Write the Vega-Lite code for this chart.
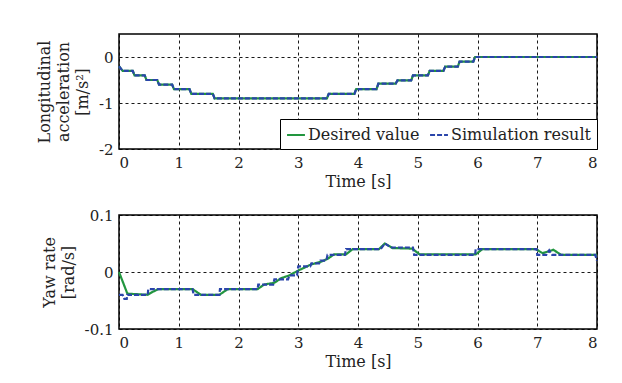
{
  "$schema": "https://vega.github.io/schema/vega-lite/v6.json",
  "background": "white",
  "padding": {"left": 35, "top": 33, "right": 20, "bottom": 5},
  "spacing": 17,
  "config": {
    "font": "DejaVu Serif",
    "view": {"stroke": "black", "strokeWidth": 1.5},
    "axis": {
      "labelFont": "DejaVu Serif", "titleFont": "DejaVu Serif",
      "labelFontSize": 15, "titleFontSize": 16, "labelColor": "#222", "titleColor": "#222",
      "titleFontWeight": "normal", "ticks": false, "domain": false,
      "grid": true, "gridColor": "black", "gridDash": [3, 3], "gridOpacity": 0.9, "gridWidth": 1,
      "labelPadding": 6, "labelExpr": "replace(datum.label, '−', '-')"
    },
    "legend": {"labelFont": "DejaVu Serif"}
  },
  "datasets": {
    "acc": [
      {"t": 0, "v": -0.2}, {"t": 0.06, "v": -0.3}, {"t": 0.23, "v": -0.3}, {"t": 0.26, "v": -0.4},
      {"t": 0.43, "v": -0.4}, {"t": 0.46, "v": -0.5}, {"t": 0.64, "v": -0.5}, {"t": 0.67, "v": -0.6},
      {"t": 0.89, "v": -0.6}, {"t": 0.92, "v": -0.7}, {"t": 1.18, "v": -0.7}, {"t": 1.21, "v": -0.8},
      {"t": 1.57, "v": -0.8}, {"t": 1.60, "v": -0.9}, {"t": 3.48, "v": -0.9}, {"t": 3.51, "v": -0.8},
      {"t": 3.94, "v": -0.8}, {"t": 3.97, "v": -0.7}, {"t": 4.31, "v": -0.7}, {"t": 4.34, "v": -0.58},
      {"t": 4.63, "v": -0.58}, {"t": 4.66, "v": -0.51}, {"t": 4.89, "v": -0.51}, {"t": 4.92, "v": -0.4},
      {"t": 5.17, "v": -0.4}, {"t": 5.20, "v": -0.3}, {"t": 5.43, "v": -0.3}, {"t": 5.46, "v": -0.21},
      {"t": 5.67, "v": -0.21}, {"t": 5.70, "v": -0.1}, {"t": 5.93, "v": -0.1}, {"t": 5.96, "v": 0},
      {"t": 8, "v": 0}
    ],
    "yaw": [
      {"s": "Desired value", "t": 0, "v": 0}, {"s": "Desired value", "t": 0.14, "v": -0.038},
      {"s": "Desired value", "t": 0.48, "v": -0.04}, {"s": "Desired value", "t": 0.56, "v": -0.035},
      {"s": "Desired value", "t": 0.66, "v": -0.03}, {"s": "Desired value", "t": 1.23, "v": -0.03},
      {"s": "Desired value", "t": 1.37, "v": -0.04}, {"s": "Desired value", "t": 1.68, "v": -0.04},
      {"s": "Desired value", "t": 1.82, "v": -0.03}, {"s": "Desired value", "t": 2.32, "v": -0.03},
      {"s": "Desired value", "t": 2.43, "v": -0.022}, {"s": "Desired value", "t": 2.6, "v": -0.019},
      {"s": "Desired value", "t": 2.71, "v": -0.011}, {"s": "Desired value", "t": 2.85, "v": -0.006},
      {"s": "Desired value", "t": 2.99, "v": 0.002}, {"s": "Desired value", "t": 3.13, "v": 0.009},
      {"s": "Desired value", "t": 3.21, "v": 0.013}, {"s": "Desired value", "t": 3.38, "v": 0.018},
      {"s": "Desired value", "t": 3.49, "v": 0.023}, {"s": "Desired value", "t": 3.6, "v": 0.031},
      {"s": "Desired value", "t": 3.8, "v": 0.031}, {"s": "Desired value", "t": 3.91, "v": 0.04},
      {"s": "Desired value", "t": 4.35, "v": 0.04}, {"s": "Desired value", "t": 4.45, "v": 0.05},
      {"s": "Desired value", "t": 4.58, "v": 0.042}, {"s": "Desired value", "t": 4.91, "v": 0.041},
      {"s": "Desired value", "t": 5.03, "v": 0.031}, {"s": "Desired value", "t": 5.97, "v": 0.031},
      {"s": "Desired value", "t": 6.08, "v": 0.04}, {"s": "Desired value", "t": 6.98, "v": 0.04},
      {"s": "Desired value", "t": 7.09, "v": 0.033}, {"s": "Desired value", "t": 7.27, "v": 0.039},
      {"s": "Desired value", "t": 7.4, "v": 0.03}, {"s": "Desired value", "t": 8, "v": 0.03},
      {"s": "Simulation result", "t": 0, "v": -0.04}, {"s": "Simulation result", "t": 0.06, "v": -0.04},
      {"s": "Simulation result", "t": 0.09, "v": -0.047}, {"s": "Simulation result", "t": 0.13, "v": -0.047},
      {"s": "Simulation result", "t": 0.14, "v": -0.04}, {"s": "Simulation result", "t": 0.48, "v": -0.04},
      {"s": "Simulation result", "t": 0.49, "v": -0.03}, {"s": "Simulation result", "t": 1.23, "v": -0.03},
      {"s": "Simulation result", "t": 1.25, "v": -0.04}, {"s": "Simulation result", "t": 1.68, "v": -0.04},
      {"s": "Simulation result", "t": 1.69, "v": -0.03}, {"s": "Simulation result", "t": 2.32, "v": -0.03},
      {"s": "Simulation result", "t": 2.33, "v": -0.022}, {"s": "Simulation result", "t": 2.58, "v": -0.022},
      {"s": "Simulation result", "t": 2.6, "v": -0.013}, {"s": "Simulation result", "t": 2.83, "v": -0.013},
      {"s": "Simulation result", "t": 2.85, "v": -0.006}, {"s": "Simulation result", "t": 2.98, "v": -0.006},
      {"s": "Simulation result", "t": 3.0, "v": 0.01}, {"s": "Simulation result", "t": 3.2, "v": 0.01},
      {"s": "Simulation result", "t": 3.22, "v": 0.015}, {"s": "Simulation result", "t": 3.35, "v": 0.015},
      {"s": "Simulation result", "t": 3.37, "v": 0.02}, {"s": "Simulation result", "t": 3.47, "v": 0.02},
      {"s": "Simulation result", "t": 3.49, "v": 0.03}, {"s": "Simulation result", "t": 3.78, "v": 0.03},
      {"s": "Simulation result", "t": 3.8, "v": 0.04}, {"s": "Simulation result", "t": 4.38, "v": 0.04},
      {"s": "Simulation result", "t": 4.45, "v": 0.05}, {"s": "Simulation result", "t": 4.55, "v": 0.043},
      {"s": "Simulation result", "t": 4.92, "v": 0.043}, {"s": "Simulation result", "t": 4.94, "v": 0.03},
      {"s": "Simulation result", "t": 5.96, "v": 0.03}, {"s": "Simulation result", "t": 5.97, "v": 0.04},
      {"s": "Simulation result", "t": 6.99, "v": 0.04}, {"s": "Simulation result", "t": 7.0, "v": 0.03},
      {"s": "Simulation result", "t": 7.15, "v": 0.03}, {"s": "Simulation result", "t": 7.2, "v": 0.038},
      {"s": "Simulation result", "t": 7.25, "v": 0.03}, {"s": "Simulation result", "t": 7.97, "v": 0.03},
      {"s": "Simulation result", "t": 8, "v": 0.02}
    ]
  },
  "vconcat": [
    {
      "width": 478, "height": 115,
      "data": {"name": "acc"},
      "transform": [
        {"calculate": "datum.v", "as": "Desired value"},
        {"calculate": "datum.v", "as": "Simulation result"},
        {"fold": ["Desired value", "Simulation result"], "as": ["s", "val"]}
      ],
      "mark": {"type": "line", "strokeWidth": 2.2},
      "encoding": {
        "x": {"field": "t", "type": "quantitative", "scale": {"domain": [0, 8], "nice": false},
              "axis": {"values": [0,1,2,3,4,5,6,7,8], "title": "Time [s]", "titlePadding": 3}},
        "y": {"field": "val", "type": "quantitative", "scale": {"domain": [-2, 0.5], "nice": false},
              "axis": {"values": [-2, -1, 0], "title": ["Longitudinal", "acceleration", "[m/s²]"],
                       "titleLineHeight": 19, "titlePadding": 8}},
        "color": {"field": "s", "type": "nominal",
                  "scale": {"domain": ["Desired value", "Simulation result"], "range": ["#22963f", "#2a45aa"]},
                  "legend": {"title": null, "orient": "bottom-right", "direction": "horizontal", "offset": 0,
                             "strokeColor": "black", "fillColor": "white", "padding": 6,
                             "symbolType": "stroke", "symbolSize": 320, "symbolStrokeWidth": 2,
                             "labelFontSize": 16, "labelColor": "#222", "columnPadding": 6, "labelOffset": 2}},
        "strokeDash": {"field": "s", "type": "nominal",
                       "scale": {"domain": ["Desired value", "Simulation result"], "range": [[1, 0], [5, 2]]},
                       "legend": null}
      }
    },
    {
      "width": 478, "height": 114,
      "data": {"name": "yaw"},
      "mark": {"type": "line", "strokeWidth": 2.2},
      "encoding": {
        "x": {"field": "t", "type": "quantitative", "scale": {"domain": [0, 8], "nice": false},
              "axis": {"values": [0,1,2,3,4,5,6,7,8], "title": "Time [s]", "titlePadding": 3}},
        "y": {"field": "v", "type": "quantitative", "scale": {"domain": [-0.1, 0.1], "nice": false},
              "axis": {"values": [-0.1, 0, 0.1], "format": "~g", "title": ["Yaw rate", "[rad/s]"],
                       "titleLineHeight": 19, "titlePadding": 8}},
        "color": {"field": "s", "type": "nominal",
                  "scale": {"domain": ["Desired value", "Simulation result"], "range": ["#22963f", "#2a45aa"]},
                  "legend": null},
        "strokeDash": {"field": "s", "type": "nominal",
                       "scale": {"domain": ["Desired value", "Simulation result"], "range": [[1, 0], [5, 2]]},
                       "legend": null}
      }
    }
  ],
  "resolve": {"scale": {"color": "independent", "strokeDash": "independent"}}
}
